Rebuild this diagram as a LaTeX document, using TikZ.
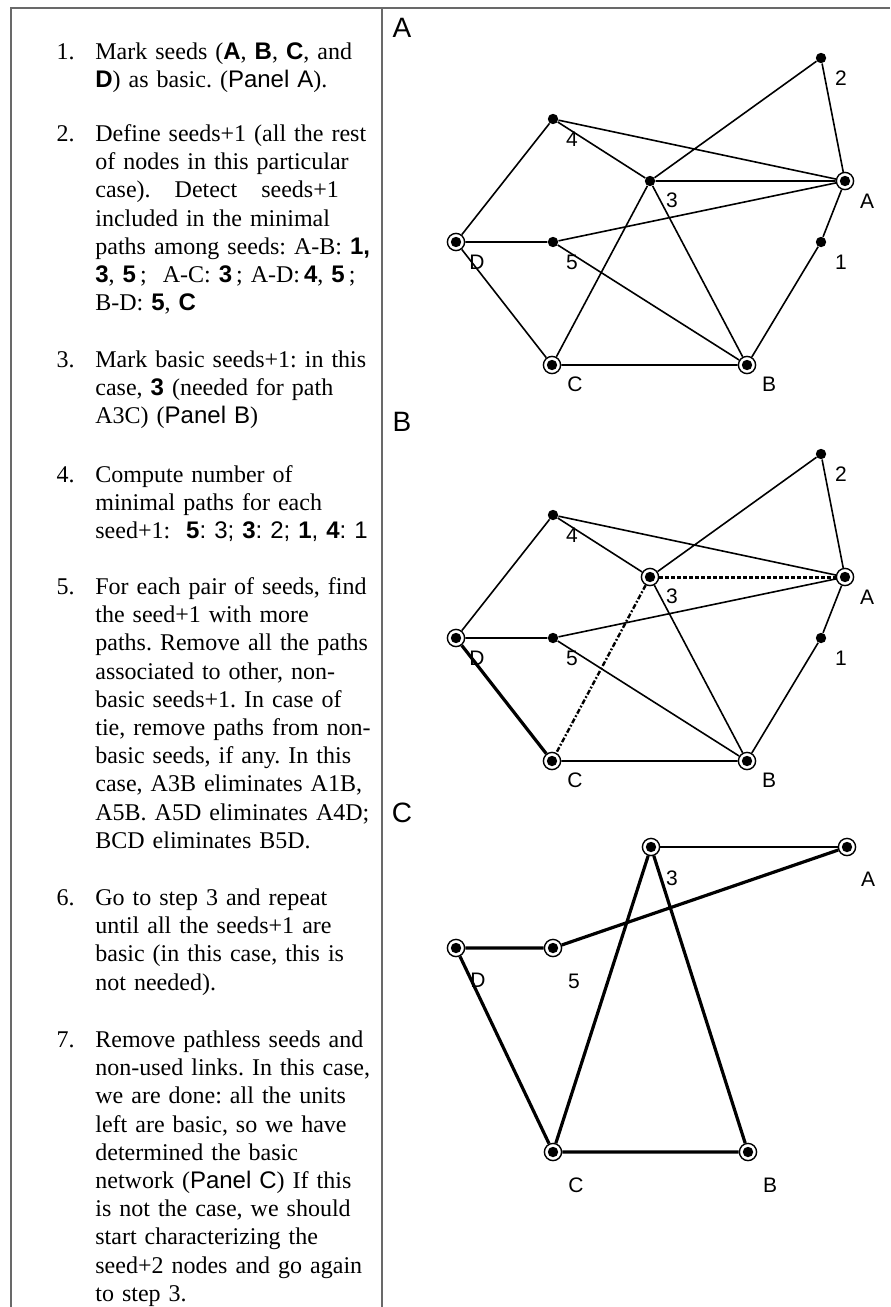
\documentclass[tikz,border=0pt]{standalone}
\usepackage{fontspec}
\setmainfont{Liberation Serif}
\setsansfont{Liberation Sans}
\usepackage{tikz}
\usetikzlibrary{positioning}
\definecolor{framegray}{RGB}{105,105,105}

\newlength{\colw}
\setlength{\colw}{138.5pt}
\newcommand{\seed}[1]{\textsf{\bfseries #1}}
\newcommand{\pnl}[1]{\textsf{#1}}
\newcommand{\jl}[1]{\makebox[\colw][s]{#1}}

\begin{document}
\frenchspacing
\begin{tikzpicture}[x=0.5pt, y=-0.5pt,
    itemtext/.style={text width=\colw, align=left, anchor=base west, inner sep=0pt,
                     font=\fontsize{12}{14.1}\selectfont},
    itemnum/.style={inner sep=0pt, font=\fontsize{12}{14.1}\selectfont},
    frame/.style={draw=framegray, line width=0.8pt},
    panel/.style={font=\sffamily\fontsize{14}{14}\selectfont},
    lbl/.style={font=\sffamily\fontsize{10.5}{10.5}\selectfont, inner sep=0pt},
    dot/.style={circle, fill=black, inner sep=0pt, minimum size=5.2pt},
    seed/.style={circle, draw=black, line width=0.7pt, fill=white, inner sep=0pt,
                 minimum size=8.6pt, path picture={\fill[black] (path picture bounding box.center) circle (2.6pt);}},
    edge/.style={line width=0.8pt},
    thickedge/.style={line width=1.6pt},
    dotedge/.style={line width=1.5pt, dash pattern=on 1.8pt off 1.2pt},
    dashdotedge/.style={line width=1.2pt, dash pattern=on 2.5pt off 1pt on 0.9pt off 1pt}
]
\useasboundingbox (0,0) rectangle (890,1307);

% ---- frame ----
\draw[frame] (11,1307) -- (11,8) -- (890,8);
\draw[frame] (382,8) -- (382,1307);

% ---- steps ----
\node[itemtext] (s1) at (95,59)
  {\jl{Mark seeds (\seed{A}, \seed{B}, \seed{C}, and}\\
   \seed{D}) as basic. (\pnl{Panel A}).};
\node[itemtext] (s2) at (95,141.5)
  {\jl{Define seeds+1 (all the rest}\\
   \jl{of nodes in this particular}\\
   \jl{case). \ \ Detect \ \ seeds+1}\\
   \jl{included in the minimal}\\
   \jl{paths among seeds: A-B: \seed{1,}}\\
   \jl{\seed{3}, \seed{5}\,; \ A-C: \seed{3}\,; A-D:\,\seed{4}, \seed{5}\,;}\\
   B-D: \seed{5}, \seed{C}};
\node[itemtext] (s3) at (95,367.5)
  {\jl{Mark basic seeds+1: in this}\\
   \jl{case, \seed{3} (needed for path}\\
   A3C) (\pnl{Panel B})};
\node[itemtext] (s4) at (95,482.5)
  {\jl{Compute number of}\\
   \jl{minimal paths for each}\\
   \mbox{seed+1:\ \ \seed{5}\pnl{: 3;} \seed{3}\pnl{: 2;} \seed{1}\pnl{,} \seed{4}\pnl{: 1}}};
\node[itemtext] (s5) at (95,594.5)
  {\jl{For each pair of seeds, find}\\
   \jl{the seed+1 with more}\\
   \jl{paths. Remove all the paths}\\
   \jl{associated to other, non-}\\
   \jl{basic seeds+1. In case of}\\
   \jl{tie, remove paths from non-}\\
   \jl{basic seeds, if any. In this}\\
   \jl{case, A3B eliminates A1B,}\\
   \jl{A5B. A5D eliminates A4D;}\\
   BCD eliminates B5D.};
\node[itemtext] (s6) at (95,905.5)
  {\mbox{Go to step 3 and repeat}\\
   \mbox{until all the seeds+1 are}\\
   \mbox{basic (in this case, this is}\\
   not needed).};
\node[itemtext] (s7) at (95,1047.5)
  {\mbox{Remove pathless seeds and}\\
   \mbox{non-used links. In this case,}\\
   \mbox{we are done: all the units}\\
   \mbox{left are basic, so we have}\\
   determined the basic\\
   \mbox{network (\pnl{Panel C}) If this}\\
   \mbox{is not the case, we should}\\
   \mbox{start characterizing the}\\
   \mbox{seed+2 nodes and go again}\\
   to step 3.};
\node[itemnum, base left=10pt of s1] (n1) {1.};
\node[itemnum, base left=10pt of s2] (n2) {2.};
\node[itemnum, base left=10pt of s3] (n3) {3.};
\node[itemnum, base left=10pt of s4] (n4) {4.};
\node[itemnum, base left=10pt of s5] (n5) {5.};
\node[itemnum, base left=10pt of s6] (n6) {6.};
\node[itemnum, base left=10pt of s7] (n7) {7.};

% ---- Panel A ----
\node[panel] (pA) at (402,28) {A};
\node[dot]  (a2) at (821,58)  {};
\node[dot]  (a4) at (553,119) {};
\node[dot]  (a3) at (650,181) {};
\node[seed] (aA) at (845,181) {};
\node[seed] (aD) at (456,242) {};
\node[dot]  (a5) at (553,242) {};
\node[dot]  (a1) at (821,242) {};
\node[seed] (aC) at (552,365) {};
\node[seed] (aB) at (747,365) {};
\node[lbl] (la2) at (841,78)  {2};
\node[lbl] (la4) at (572,139) {4};
\node[lbl] (la3) at (672,200) {3};
\node[lbl] (laA) at (867,201) {A};
\node[lbl] (laD) at (477,262) {D};
\node[lbl] (la5) at (572,262) {5};
\node[lbl] (la1) at (841,262) {1};
\node[lbl] (laC) at (575,384) {C};
\node[lbl] (laB) at (769,384) {B};
\draw[edge] (a4)--(aA) (a4)--(a3) (a4)--(aD) (a3)--(a2) (a3)--(aA) (a3)--(aC)
            (a3)--(aB) (a2)--(aA) (aA)--(a5) (aA)--(a1) (a1)--(aB) (aD)--(a5)
            (a5)--(aB) (aD)--(aC) (aC)--(aB);

% ---- Panel B ----
\node[panel] (pB) at (402,422) {B};
\begin{scope}[shift={(0,396)}]
\node[dot]  (b2) at (821,58)  {};
\node[dot]  (b4) at (553,119) {};
\node[seed] (b3) at (650,181) {};
\node[seed] (bA) at (845,181) {};
\node[seed] (bD) at (456,242) {};
\node[dot]  (b5) at (553,242) {};
\node[dot]  (b1) at (821,242) {};
\node[seed] (bC) at (552,365) {};
\node[seed] (bB) at (747,365) {};
\node[lbl] (lb2) at (841,78)  {2};
\node[lbl] (lb4) at (572,139) {4};
\node[lbl] (lb3) at (672,200) {3};
\node[lbl] (lbA) at (867,201) {A};
\node[lbl] (lbD) at (477,262) {D};
\node[lbl] (lb5) at (572,262) {5};
\node[lbl] (lb1) at (841,262) {1};
\node[lbl] (lbC) at (575,384) {C};
\node[lbl] (lbB) at (769,384) {B};
\end{scope}
\draw[edge] (b4)--(bA) (b4)--(b3) (b4)--(bD) (b3)--(b2) (b3)--(bB) (b2)--(bA)
            (bA)--(b5) (bA)--(b1) (b1)--(bB) (bD)--(b5) (b5)--(bB) (bC)--(bB);
\draw[dotedge] (b3)--(bA);
\draw[dashdotedge] (b3)--(bC);
\draw[thickedge] (bD)--(bC);

% ---- Panel C ----
\node[panel] (pC) at (402,813) {C};
\node[seed] (c3) at (651,847)  {};
\node[seed] (cA) at (847,847)  {};
\node[seed] (cD) at (456,948)  {};
\node[seed] (c5) at (553,948)  {};
\node[seed] (cC) at (553,1152) {};
\node[seed] (cB) at (748,1152) {};
\node[lbl] (lc3) at (672,878)  {3};
\node[lbl] (lcA) at (868,879)  {A};
\node[lbl] (lcD) at (478,980)  {D};
\node[lbl] (lc5) at (574,981)  {5};
\node[lbl] (lcC) at (576,1185) {C};
\node[lbl] (lcB) at (770,1185) {B};
\draw[edge] (c3)--(cA);
\draw[thickedge] (c5)--(cA) (cD)--(c5) (cD)--(cC) (c3)--(cC) (c3)--(cB) (cC)--(cB);

\end{tikzpicture}
\end{document}
